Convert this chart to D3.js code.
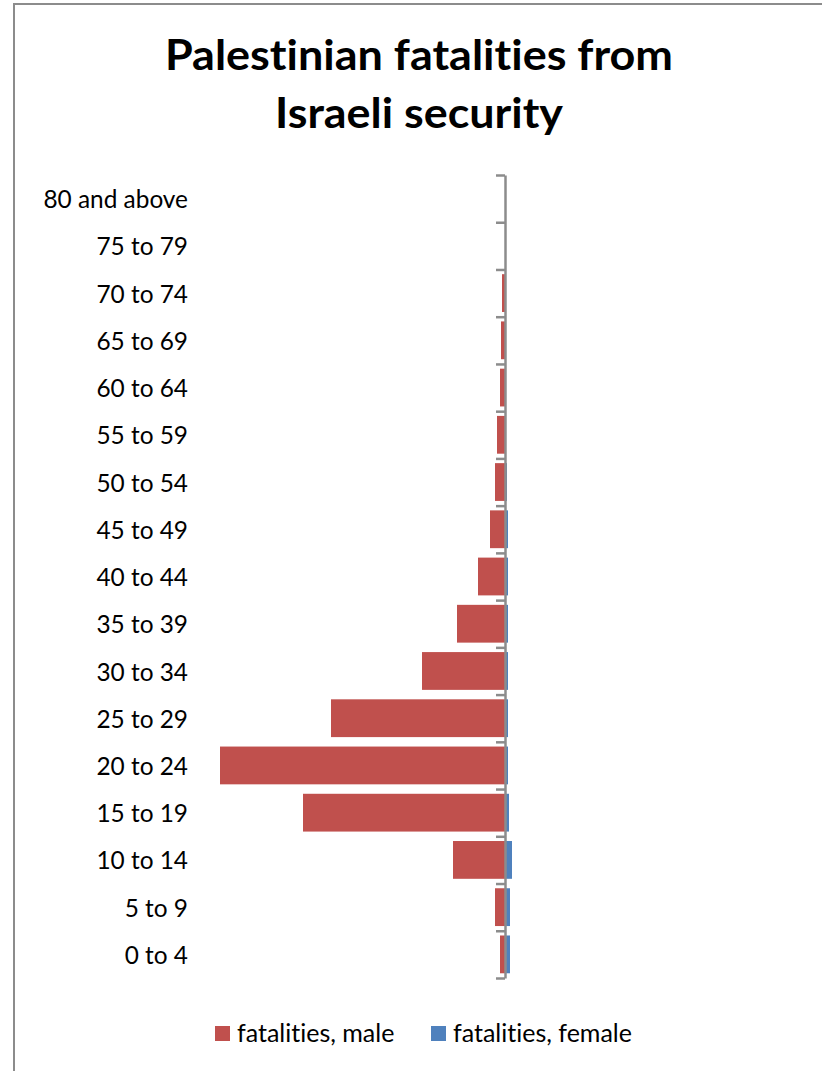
<!DOCTYPE html>
<html><head><meta charset="utf-8">
<script src="https://cdn.jsdelivr.net/npm/d3@7"></script>
<style>body{margin:0;background:#fff}svg{display:block}text{font-family:Lato,"Open Sans",sans-serif;font-variant-ligatures:none}</style>
</head><body>
<script>
const categories = ["0 to 4","5 to 9","10 to 14","15 to 19","20 to 24","25 to 29","30 to 34","35 to 39","40 to 44","45 to 49","50 to 54","55 to 59","60 to 64","65 to 69","70 to 74","75 to 79","80 and above"];
const male =   [25, 50, 260, 1010, 1425, 870, 415, 240, 135, 75, 50, 40, 25, 20, 15, 0, 0];
const female = [25, 25, 35, 20, 15, 15, 15, 15, 15, 15, 10, 5, 5, 3, 2, 0, 0];
const seriesNames = ["fatalities, male", "fatalities, female"];
const titleLines = ["Palestinian fatalities from", "Israeli security"];

(function () {
const W = 822, H = 1071;
const svg = d3.select("body").append("svg").attr("width", W).attr("height", H);

// chart border
svg.append("rect").attr("x", 14).attr("y", 4).attr("width", 900).attr("height", 1200)
  .attr("fill", "none").attr("stroke", "#8c8c8c").attr("stroke-width", 2);

// title
const tl = [{t: titleLines[0], y: 70, w: 508}, {t: titleLines[1], y: 128, w: 288}];
svg.selectAll("text.title").data(tl).join("text").attr("class", "title")
  .attr("x", 419).attr("y", d => d.y).attr("text-anchor", "middle")
  .attr("font-size", 42).attr("font-weight", "bold").attr("fill", "#000")
  .attr("textLength", d => d.w).attr("lengthAdjust", "spacingAndGlyphs")
  .text(d => d.t);

const plotTop = 175, plotBottom = 978;
const y = d3.scaleBand().domain(categories.slice().reverse()).range([plotTop, plotBottom])
  .paddingInner(0.2).paddingOuter(0.1);
const x = d3.scaleLinear().domain([-1500, 1500]).range([205, 805]);

const data = categories.map((c, i) => ({c, m: male[i], f: female[i]}));

svg.append("g").selectAll("rect").data(data).join("rect")
  .attr("x", d => x(-d.m)).attr("width", d => x(0) - x(-d.m))
  .attr("y", d => y(d.c)).attr("height", y.bandwidth()).attr("fill", "#C0504D");
svg.append("g").selectAll("rect").data(data).join("rect")
  .attr("x", x(0)).attr("width", d => x(d.f) - x(0))
  .attr("y", d => y(d.c)).attr("height", y.bandwidth()).attr("fill", "#4F81BD");

// category axis with ticks at band boundaries
const yb = d3.scaleLinear().domain([0, categories.length]).range([plotBottom, plotTop]);
const ax = svg.append("g").attr("transform", `translate(${x(0)},0)`)
  .call(d3.axisLeft(yb).tickValues(d3.range(categories.length + 1)).tickFormat("").tickSize(9).tickSizeOuter(0));
ax.selectAll("line, path").attr("stroke", "#8c8c8c").attr("stroke-width", 2.5);

// category labels (low position)
svg.append("g").selectAll("text").data(categories).join("text")
  .attr("x", 188).attr("y", d => y(d) + y.bandwidth() / 2 + 1).attr("dy", "0.35em")
  .attr("text-anchor", "end").attr("font-size", 24.4).attr("fill", "#000").text(d => d);

// legend
const lg = [{n: seriesNames[0], c: "#C0504D", x: 215}, {n: seriesNames[1], c: "#4F81BD", x: 431}];
const lgg = svg.append("g");
lgg.selectAll("rect").data(lg).join("rect").attr("x", d => d.x).attr("y", 1026)
  .attr("width", 15).attr("height", 15).attr("fill", d => d.c);
lgg.selectAll("text").data(lg).join("text").attr("x", d => d.x + 22).attr("y", 1042)
  .attr("font-size", 25).attr("fill", "#000").text(d => d.n);
})();
</script>
</body></html>
